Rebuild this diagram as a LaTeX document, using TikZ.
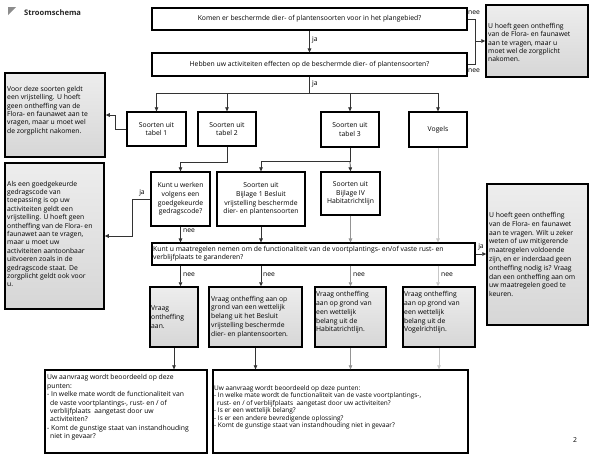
\documentclass[tikz,border=0pt]{standalone}
\usepackage{fontspec}
\setmainfont{Open Sans}
\usetikzlibrary{arrows.meta,calc}
\tikzset{
 qbox/.style={draw=black, line width=1.1pt, fill=white, inner sep=0pt, align=center, font=\fontsize{6.8}{8.4}\selectfont},
 wbox/.style={draw=black, line width=1.3pt, fill=white, inner sep=0pt, align=center, font=\fontsize{6.8}{8.8}\selectfont},
 gbox/.style={draw=black, line width=1.5pt, top color=black!7, bottom color=black!16, inner sep=0pt},
 txt/.style={inner sep=0pt, align=left, anchor=west, font=\fontsize{6.8}{8.4}\selectfont},
 lab/.style={inner sep=0pt, font=\fontsize{6.8}{8}\selectfont},
 con/.style={draw=black!80, line width=0.7pt},
 arr/.style={con, -{Triangle[length=4pt,width=3.6pt]}},
 garr/.style={arr, draw=black!42},
 larr/.style={arr, draw=black!22},
}
\begin{document}
\begin{tikzpicture}[x=1pt,y=-1pt]
\useasboundingbox (0,0) rectangle (597,463);
% title
\fill[black!45] (8,7) -- (16,7) -- (8,15) -- cycle;
\node[inner sep=0pt, anchor=west, font=\fontsize{7.6}{9}\selectfont\bfseries, text=black!85] (title) at (24,13) {Stroomschema};
% questions
\node[qbox, minimum width=315, minimum height=22] (q1) at (309.5,19) {Komen er beschermde dier- of plantensoorten voor in het plangebied?};
\node[qbox, minimum width=315, minimum height=23] (q2) at (309.5,64.5) {Hebben uw activiteiten effecten op de beschermde dier- of plantensoorten?};
\node[gbox, minimum width=102, minimum height=72] (r1) at (537,41) {};
\node[txt] (r1t) at (488,42.5) {U hoeft geen ontheffing\\van de Flora- en faunawet\\aan te vragen, maar u\\moet wel de zorgplicht\\nakomen.};
% row tabel
\node[wbox, minimum width=59, minimum height=34] (t1) at (156.5,129) {Soorten uit\\tabel 1};
\node[wbox, minimum width=58, minimum height=34] (t2) at (227,129) {Soorten uit\\tabel 2};
\node[wbox, minimum width=58, minimum height=35] (t3) at (350,129.5) {Soorten uit\\tabel 3};
\node[wbox, minimum width=58, minimum height=35] (vo) at (438,129.5) {Vogels};
% left boxes
\node[gbox, minimum width=100, minimum height=84] (l1) at (55,115) {};
\node[txt] (l1t) at (7,110.5) {Voor deze soorten geldt\\een vrijstelling. U hoeft\\geen ontheffing van de\\Flora- en faunawet aan te\\vragen, maar u moet wel\\de zorgplicht nakomen.};
\node[gbox, minimum width=99, minimum height=146] (l2) at (54.5,236) {};
\node[txt] (l2t) at (7,234) {Als een goedgekeurde\\gedragscode van\\toepassing is op uw\\activiteiten geldt een\\vrijstelling. U hoeft geen\\ontheffing van de Flora- en\\faunawet aan te vragen,\\maar u moet uw\\activiteiten aantoonbaar\\uitvoeren zoals in de\\gedragscode staat. De\\zorgplicht geldt ook voor\\u.};
% row 3
\node[wbox, minimum width=59, minimum height=54] (kw) at (180.5,199) {Kunt u werken\\volgens een\\goedgekeurde\\gedragscode?};
\node[wbox, minimum width=88, minimum height=54] (b1) at (261,199) {Soorten uit\\Bijlage 1 Besluit\\vrijstelling beschermde\\dier- en plantensoorten};
\node[wbox, minimum width=59, minimum height=43] (b4) at (350.5,193.5) {Soorten uit\\Bijlage IV\\Habitatrichtlijn};
% q3
\node[qbox, minimum width=323, minimum height=22] (q3) at (313.5,254) {};
\node[txt] (q3t) at (153,253.5) {Kunt u maatregelen nemen om de functionaliteit van de voortplantings- en/of vaste rust- en\\verblijfplaats te garanderen?};
\node[gbox, minimum width=101, minimum height=141] (r2) at (537.5,254.5) {};
\node[txt, font=\fontsize{6.8}{8.8}\selectfont] (r2t) at (489,254.5) {U hoeft geen ontheffing\\van de Flora- en faunawet\\aan te vragen. Wilt u zeker\\weten of uw mitigerende\\maatregelen voldoende\\zijn, en er inderdaad geen\\ontheffing nodig is? Vraag\\dan een ontheffing aan om\\uw maatregelen goed te\\keuren.};
% row 4
\node[gbox, minimum width=48, minimum height=60] (v1) at (174,317) {};
\node[txt, font=\fontsize{6.8}{8.8}\selectfont] (v1t) at (151,317) {Vraag\\ontheffing\\aan.};
\node[gbox, minimum width=93, minimum height=60] (v2) at (255.5,317) {};
\node[txt, font=\fontsize{6.8}{8.8}\selectfont] (v2t) at (211,317) {Vraag ontheffing aan op\\grond van een wettelijk\\belang uit het Besluit\\vrijstelling beschermde\\dier- en plantensoorten.};
\node[gbox, minimum width=71, minimum height=60] (v3) at (350.5,317) {};
\node[txt, font=\fontsize{6.8}{8.8}\selectfont] (v3t) at (316,312.5) {Vraag ontheffing\\aan op grond van\\een wettelijk\\belang uit de\\Habitatrichtlijn.};
\node[gbox, minimum width=72, minimum height=60] (v4) at (439,317) {};
\node[txt, font=\fontsize{6.8}{8.8}\selectfont] (v4t) at (404,312.5) {Vraag ontheffing\\aan op grond van\\een wettelijk\\belang uit de\\Vogelrichtlijn.};
% bottom
\node[wbox, minimum width=162, minimum height=83] (ba) at (126,411.5) {};
\node[txt] (bat) at (47,407.5) {Uw aanvraag wordt beoordeeld op deze\\punten:\\- In welke mate wordt de functionaliteit van\\\hspace*{3pt}de vaste voortplantings-, rust- en / of\\\hspace*{3pt}verblijfplaats\ \ aangetast door uw\\\hspace*{3pt}activiteiten?\\- Komt de gunstige staat van instandhouding\\\hspace*{3pt}niet in gevaar?};
\node[wbox, minimum width=255, minimum height=83] (bb) at (340.5,411.5) {};
\node[txt, font=\fontsize{6.5}{7.5}\selectfont] (bbt) at (214,407.5) {Uw aanvraag wordt beoordeeld op deze punten:\\- In welke mate wordt de functionaliteit van de vaste voortplantings-,\\\hspace*{3pt}rust- en / of verblijfplaats\ \ aangetast door uw activiteiten?\\- Is er een wettelijk belang?\\- Is er een andere bevredigende oplossing?\\- Komt de gunstige staat van instandhouding niet in gevaar?};
\node[lab] (pg) at (575,440) {2};
% connectors top
\draw[arr] (q1.south) -- (q2.north);
\node[lab, anchor=west] (ja1) at (312,40) {ja};
\draw[con] (q1.east) -- ++(8,0) coordinate (n1) |- (q2.east);
\coordinate (n2) at (n1 |- r1.west);
\draw[arr] (n2) -- (r1.west);
\node[lab, anchor=west] (nee1) at (468,13) {nee};
\node[lab, anchor=west] (nee2) at (468,70.5) {nee};
\draw[con] (q2.south) -- ++(0,17) coordinate (bus);
\node[lab, anchor=west] (ja2) at (312,84) {ja};
\draw[arr] (bus) -| (t1.north);
\draw[arr] (bus) -| (t2.north);
\draw[arr] (bus) -| (t3.north);
\draw[arr] (bus) -| (vo.north);
\draw[arr] (t1.west) -- ++(-11,0) |- (l1.east);
\draw[arr] (t2.south) -- ++(0,16) -| (kw.north);
\draw[con] (t3.south) -- ++(0,14) coordinate (bus2);
\draw[arr] (bus2) -| (b1.north);
\draw[arr] (bus2) -- (b4.north);
\draw[arr] (kw.west) -- ++(-18,0) |- (l2.east);
\node[lab] (ja3) at (142,192.5) {ja};
\draw[arr] (kw.south) -- (kw.south |- q3.north);
\node[lab] (nee3) at (189,231) {nee};
\draw[arr] (b1.south) -- (b1.south |- q3.north);
\draw[garr] (b4.south) -- (b4.south |- q3.north);
\draw[larr] (vo.south) -- (vo.south |- q3.north);
\draw[arr] (q3.east) -- (r2.west |- q3.east);
\node[lab] (ja4) at (481,246.5) {ja};
% q3 to row 4
\draw[arr] (kw.south |- q3.south) -- (kw.south |- v1.north);
\draw[arr] (b1.south |- q3.south) -- (b1.south |- v2.north);
\draw[garr] (b4.south |- q3.south) -- (b4.south |- v3.north);
\draw[larr] (vo.south |- q3.south) -- (vo.south |- v4.north);
\node[lab] (nee4) at (189,275) {nee};
\node[lab] (nee5) at (269,275) {nee};
\node[lab] (nee6) at (359,275) {nee};
\node[lab] (nee7) at (447,275) {nee};
% row 4 to bottom
\draw[arr] (v1.south) -- (v1.south |- ba.north);
\draw[arr] (v2.south) -- (v2.south |- bb.north);
\draw[garr] (v3.south) -- (v3.south |- bb.north);
\draw[larr] (v4.south) -- (v4.south |- bb.north);
\end{tikzpicture}
\end{document}
